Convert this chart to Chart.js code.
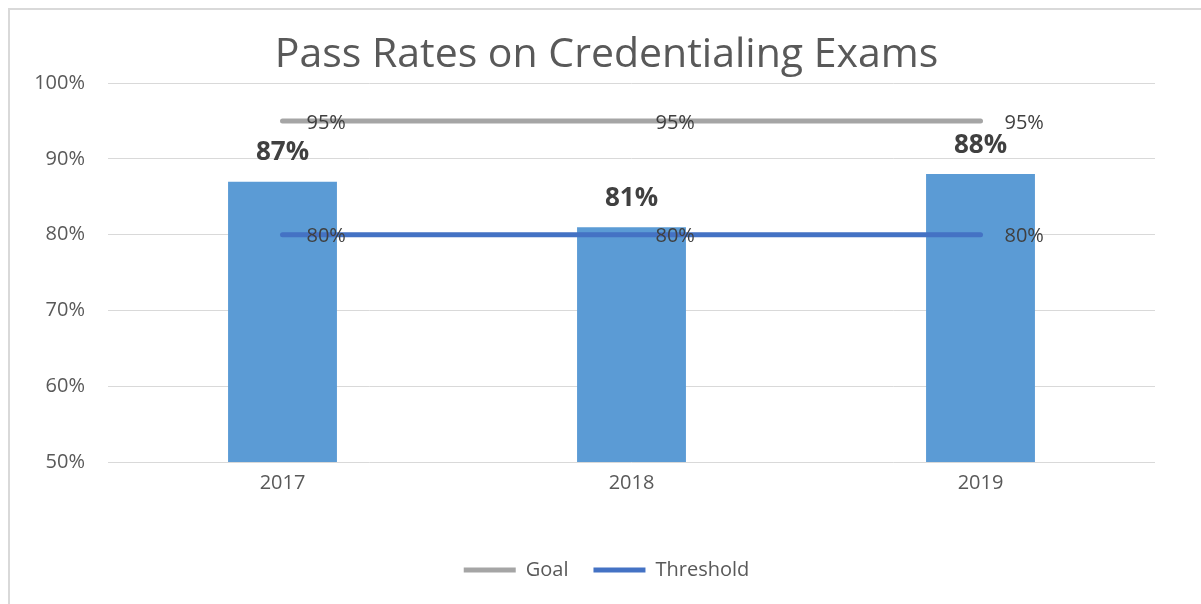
<!DOCTYPE html>
<html>
<head>
<meta charset="utf-8">
<script src="https://cdn.jsdelivr.net/npm/chart.js@4.4.1/dist/chart.umd.min.js"></script>
<style>
  html, body { margin: 0; padding: 0; background: #ffffff; }
  #wrap { position: relative; width: 1201px; height: 604px; }
</style>
</head>
<body>
<div id="wrap"><canvas id="c" width="1201" height="604"></canvas></div>
<script>
const categories = ['2017', '2018', '2019'];
const passRates = [87, 81, 88];
const goalValues = [95, 95, 95];
const thresholdValues = [80, 80, 80];
const yTicks = [50, 60, 70, 80, 90, 100];
const titleText = 'Pass Rates on Credentialing Exams';

const FONT = "'Open Sans', 'DejaVu Sans', sans-serif";

const frameBorder = {
  id: 'frameBorder',
  beforeDraw(chart) {
    const ctx = chart.ctx;
    ctx.save();
    ctx.fillStyle = '#ffffff';
    ctx.fillRect(0, 0, chart.width, chart.height);
    ctx.strokeStyle = '#d9d9d9';
    ctx.lineWidth = 2;
    ctx.beginPath();
    ctx.moveTo(9, chart.height);
    ctx.lineTo(9, 9);
    ctx.lineTo(chart.width, 9);
    ctx.stroke();
    ctx.restore();
  }
};

const valueLabels = {
  id: 'valueLabels',
  afterDatasetsDraw(chart) {
    const ctx = chart.ctx;
    ctx.save();
    chart.data.datasets.forEach((ds, di) => {
      const meta = chart.getDatasetMeta(di);
      meta.data.forEach((el, i) => {
        const v = ds.data[i];
        if (ds.type === 'bar') {
          ctx.font = "bold 26px " + FONT;
          ctx.fillStyle = '#404040';
          ctx.textAlign = 'center';
          ctx.textBaseline = 'middle';
          ctx.fillText(v + '%', el.x, el.y - 29);
        } else {
          ctx.font = "20px " + FONT;
          ctx.fillStyle = '#404040';
          ctx.textAlign = 'left';
          ctx.textBaseline = 'middle';
          ctx.fillText(v + '%', el.x + 24, el.y + 2);
        }
      });
    });
    ctx.restore();
  }
};

new Chart(document.getElementById('c'), {
  data: {
    labels: categories,
    datasets: [
      {
        type: 'line', label: 'Goal', data: goalValues,
        borderColor: '#A5A5A5', backgroundColor: '#A5A5A5',
        borderWidth: 5, borderCapStyle: 'round', pointRadius: 0, tension: 0
      },
      {
        type: 'line', label: 'Threshold', data: thresholdValues,
        borderColor: '#4472C4', backgroundColor: '#4472C4',
        borderWidth: 5, borderCapStyle: 'round', pointRadius: 0, tension: 0
      },
      {
        type: 'bar', label: 'Pass Rate', data: passRates,
        backgroundColor: '#5B9BD5', borderWidth: 0,
        categoryPercentage: 1.0, barPercentage: 0.312
      }
    ]
  },
  options: {
    responsive: false,
    devicePixelRatio: 1,
    animation: false,
    layout: { padding: { top: 0, right: 0, bottom: 14, left: 12 } },
    plugins: {
      title: {
        display: true,
        text: titleText,
        color: '#595959',
        font: { family: FONT, size: 41, weight: 'normal', lineHeight: 1.2 },
        padding: { top: 31, bottom: 3 }
      },
      legend: {
        position: 'bottom',
        labels: {
          filter: (item) => item.text !== 'Pass Rate',
          usePointStyle: true,
          pointStyle: 'line',
          pointStyleWidth: 52,
          padding: 25,
          color: '#595959',
          font: { family: FONT, size: 20 }
        }
      },
      tooltip: { enabled: false }
    },
    scales: {
      x: {
        offset: true,
        grid: { display: false, drawTicks: false },
        border: { display: false },
        ticks: { color: '#595959', font: { family: FONT, size: 20 }, padding: 9 },
        afterFit: (s) => { s.height = 73; }
      },
      y: {
        min: 50, max: 100,
        afterBuildTicks: (s) => { s.ticks = yTicks.map(v => ({ value: v })); },
        grid: { color: '#d9d9d9', lineWidth: 1, drawTicks: false },
        border: { display: false },
        ticks: {
          color: '#595959', font: { family: FONT, size: 20 }, padding: 23,
          callback: (v) => v + '%'
        },
        afterFit: (s) => { s.width = 96; }
      },
      yRight: {
        position: 'right',
        display: true,
        min: 50, max: 100,
        grid: { display: false, drawTicks: false },
        border: { display: false },
        ticks: { display: false },
        afterFit: (s) => { s.width = 46; }
      }
    }
  },
  plugins: [frameBorder, valueLabels]
});
</script>
</body>
</html>
